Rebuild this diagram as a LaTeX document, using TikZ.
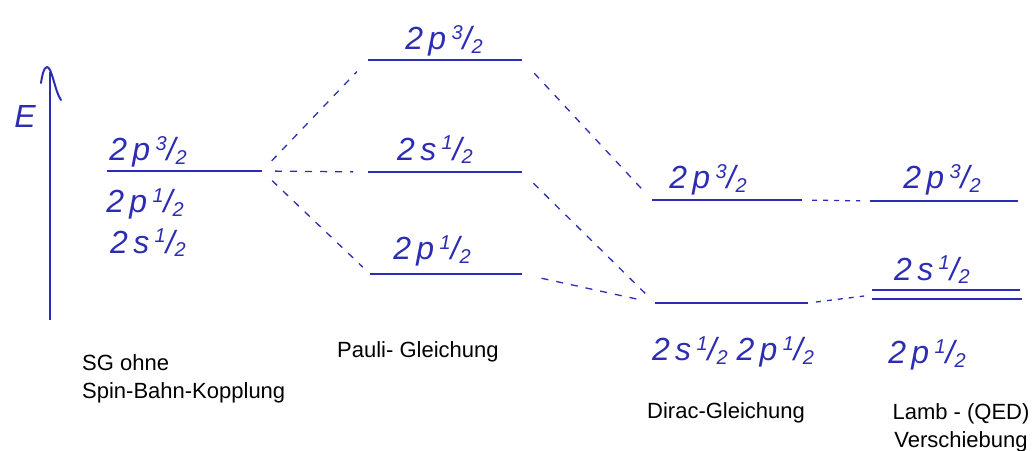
\documentclass[tikz,border=0pt]{standalone}
\usepackage{fontspec}
\setmainfont{Liberation Sans}
\definecolor{pen}{RGB}{45,45,180}
\newcommand\hlab[2]{2\,#1\,\raisebox{0.32em}{\fontsize{20}{20}\selectfont #2}/\raisebox{-0.12em}{\fontsize{20}{20}\selectfont 2}}
\begin{document}
\begin{tikzpicture}[x=1pt,y=-1pt,
  level/.style={pen,line width=2.6pt},
  conn/.style={pen,line width=1.3pt,dash pattern=on 7pt off 8pt},
  hand/.style={pen,font=\fontsize{32}{36}\selectfont\itshape,inner sep=0pt},
  captxt/.style={font=\fontsize{22}{28}\selectfont,inner sep=0pt,align=left}]
\useasboundingbox (0,0) rectangle (1032,450);
% axis
\coordinate (ax0) at (50,320);
\coordinate (ax1) at (50,72);
\draw[pen,line width=2pt] (ax0) -- (ax1);
\draw[pen,line width=2pt,line cap=round] (41,83) .. controls (42,76) and (44,67) .. (47,67) .. controls (52,67) and (55,92) .. (61,100);
\node[hand] (elab) at (25,116) {E};
% levels: SG
\coordinate (sgL) at (107,171); \coordinate (sgR) at (262,171);
% Pauli
\coordinate (paL) at (368,60);  \coordinate (paR) at (522,60);
\coordinate (psL) at (368,172); \coordinate (psR) at (522,172);
\coordinate (ppL) at (370,274); \coordinate (ppR) at (522,274);
% Dirac
\coordinate (dpL) at (652,200); \coordinate (dpR) at (802,200);
\coordinate (dlL) at (655,303); \coordinate (dlR) at (808,303);
% Lamb
\coordinate (lpL) at (870,201); \coordinate (lpR) at (1018,201);
\coordinate (lsL) at (872,290); \coordinate (lsR) at (1020,290);
\coordinate (lqL) at (872,299); \coordinate (lqR) at (1022,299);
\coordinate (lmid) at (872,295);
\foreach \a/\b in {sgL/sgR,paL/paR,psL/psR,ppL/ppR,dpL/dpR,dlL/dlR,lpL/lpR,lsL/lsR,lqL/lqR}
  \draw[level] (\a) -- (\b);
% connectors
\draw[conn,shorten <=14pt,shorten >=16pt] (sgR) -- (paL);
\draw[conn,shorten <=13pt,shorten >=15pt] (sgR) -- (psL);
\draw[conn,shorten <=14pt,shorten >=10pt] (sgR) -- (ppL);
\draw[conn,shorten <=18pt,shorten >=12pt] (paR) -- (dpL);
\draw[conn,shorten <=16pt,shorten >=10pt] (psR) -- (dlL);
\draw[conn,shorten <=20pt,shorten >=12pt] (ppR) -- (dlL);
\draw[conn,dash pattern=on 5pt off 6pt,shorten <=10pt,shorten >=10pt] (dpR) -- (lpL);
\draw[conn,dash pattern=on 5pt off 6pt,shorten <=8pt,shorten >=8pt] (dlR) -- (lmid);
% handwritten labels
\node[hand] (t1) at (148,152) {\hlab{p}{3}};
\node[hand] (t2) at (145,204) {\hlab{p}{1}};
\node[hand] (t3) at (148,243) {\hlab{s}{1}};
\node[hand] (t4) at (444,41) {\hlab{p}{3}};
\node[hand] (t5) at (435,150) {\hlab{s}{1}};
\node[hand] (t6) at (432,251) {\hlab{p}{1}};
\node[hand] (t7) at (708,180) {\hlab{p}{3}};
\node[hand] (t8) at (733,352) {\hlab{s}{1}\;\hlab{p}{1}};
\node[hand] (t9) at (942,180) {\hlab{p}{3}};
\node[hand] (t10) at (932,270) {\hlab{s}{1}};
\node[hand] (t11) at (927,355) {\hlab{p}{1}};
% captions
\node[captxt,anchor=north west] (c1) at (82,354) {SG ohne\\Spin-Bahn-Kopplung};
\node[captxt,anchor=north west] (c2) at (337,341) {Pauli- Gleichung};
\node[captxt,anchor=north west] (c3) at (647,402) {Dirac-Gleichung};
\node[captxt,anchor=north,align=center] (c4) at (961,403) {Lamb - (QED)\\Verschiebung};
\end{tikzpicture}
\end{document}
